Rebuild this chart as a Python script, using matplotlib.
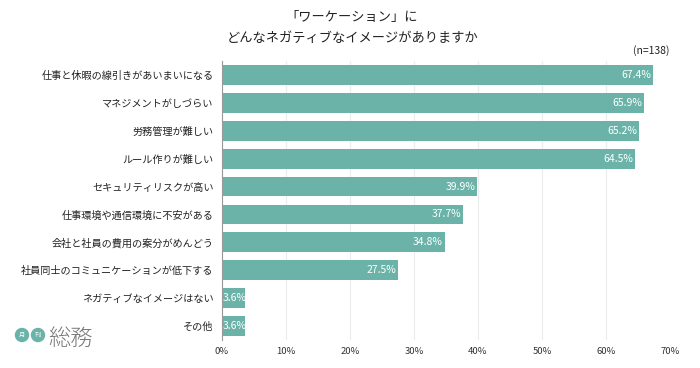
import matplotlib
matplotlib.use("Agg")
import matplotlib.pyplot as plt
from matplotlib.patches import Circle

plt.rcParams['font.family'] = ['Noto Sans CJK JP', 'DejaVu Sans']

categories = [
    "仕事と休暇の線引きがあいまいになる",
    "マネジメントがしづらい",
    "労務管理が難しい",
    "ルール作りが難しい",
    "セキュリティリスクが高い",
    "仕事環境や通信環境に不安がある",
    "会社と社員の費用の案分がめんどう",
    "社員同士のコミュニケーションが低下する",
    "ネガティブなイメージはない",
    "その他",
]
values = [67.4, 65.9, 65.2, 64.5, 39.9, 37.7, 34.8, 27.5, 3.6, 3.6]
xticks = [0, 10, 20, 30, 40, 50, 60, 70]
xticklabels = [f"{t}%" for t in xticks]

bar_color = "#6bb3a8"

fig = plt.figure(figsize=(7, 3.68), dpi=100)
ax = fig.add_axes([222/700, 1-340/368, 448/700, 279/368])

y = list(range(len(categories)))
ax.barh(y, values, height=0.71, color=bar_color, zorder=2)
ax.set_ylim(len(categories)-0.5, -0.5)
ax.set_xlim(0, 70)
ax.set_yticks(y)
ax.set_yticklabels(categories, fontsize=7.3, color="#222222")
ax.set_xticks(xticks)
ax.set_xticklabels(xticklabels, fontsize=6.8, color="#333333")
ax.tick_params(axis='both', length=0, pad=6)
ax.tick_params(axis='x', pad=5)
ax.grid(axis='x', color="#ececec", linewidth=0.8, zorder=0)
for s in ['top', 'right', 'bottom']:
    ax.spines[s].set_visible(False)
ax.spines['left'].set_color("#999999")
ax.spines['left'].set_linewidth(0.8)

for yi, v in zip(y, values):
    if v > 10:
        ax.text(v - 0.3, yi, f"{v}%", ha='right', va='center', color='white',
                fontsize=7.5, zorder=3)
    else:
        ax.text(0.15, yi, f"{v}%", ha='left', va='center', color='white',
                fontsize=7.5, zorder=3)

fig.text(0.503, 1-17/368, "「ワーケーション」に", ha='center', va='center', fontsize=9.5, color="#222222")
fig.text(0.503, 1-38/368, "どんなネガティブなイメージがありますか", ha='center', va='center', fontsize=9.5, color="#222222")
fig.text(670/700, 1-51/368, "(n=138)", ha='right', va='center', fontsize=7.5, color="#222222")

# logo
for cx, ch in [(22, "月"), (38, "刊")]:
    fig.patches.append(Circle((cx, 368-335), 6.5, transform=None, color="#6bb3a8"))
    fig.text(cx/700, 1-335/368, ch, ha='center', va='center', fontsize=4.5, color='white')
fig.text(48/700, 1-339/368, "総務", ha='left', va='center', fontsize=16, color="#777777",
         fontweight='light')

fig.savefig("out.png", dpi=100)
